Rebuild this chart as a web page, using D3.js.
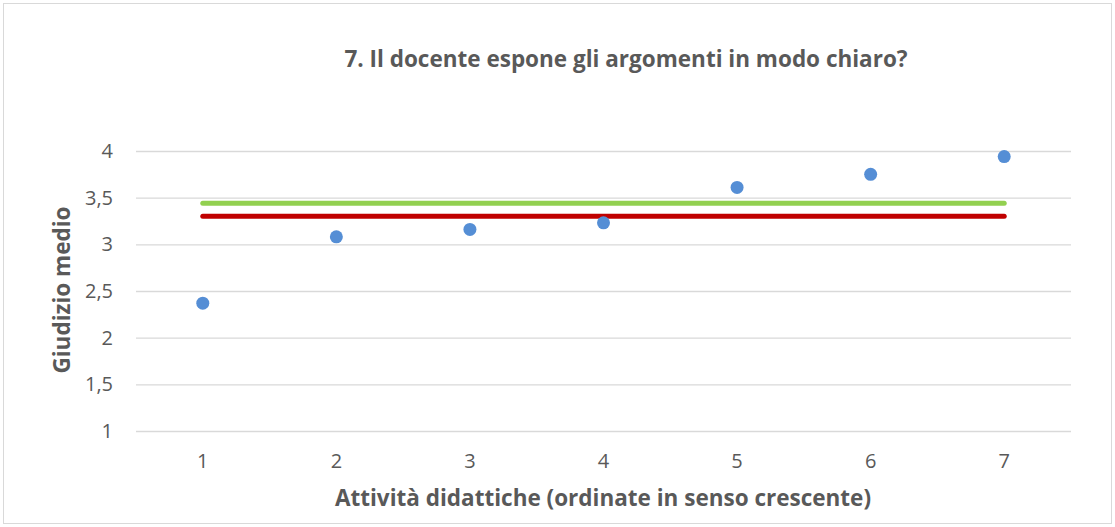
<!DOCTYPE html>
<html>
<head>
<meta charset="utf-8">
<script src="https://cdn.jsdelivr.net/npm/d3@7"></script>
<style>
  html, body { margin: 0; padding: 0; background: #fff; }
  svg { display: block; font-family: "Open Sans", Lato, sans-serif; }
</style>
</head>
<body>
<svg id="chart" width="1115" height="527"></svg>
<script>
const categories = [1, 2, 3, 4, 5, 6, 7];
const scores = [2.37, 3.08, 3.16, 3.23, 3.61, 3.75, 3.94];
const greenRef = [3.44, 3.44, 3.44, 3.44, 3.44, 3.44, 3.44];
const redRef = [3.30, 3.30, 3.30, 3.30, 3.30, 3.30, 3.30];
const yTicks = [1, 1.5, 2, 2.5, 3, 3.5, 4];
const title = "7. Il docente espone gli argomenti in modo chiaro?";
const xTitle = "Attività didattiche (ordinate in senso crescente)";
const yTitle = "Giudizio medio";

const svg = d3.select("#chart");
const W = 1115, H = 527;
const m = { left: 136, right: 1071, top: 151, bottom: 431 };

svg.append("rect").attr("x", 3.5).attr("y", 3.5).attr("width", W - 7).attr("height", H - 7)
  .attr("fill", "#fff").attr("stroke", "#d9d9d9").attr("stroke-width", 1);

const x = d3.scaleBand().domain(categories).range([m.left, m.right]);
const y = d3.scaleLinear().domain([1, 4]).range([m.bottom, m.top]);
const cx = d => x(d) + x.bandwidth() / 2;

// gridlines
const yAxis = d3.axisLeft(y).tickValues(yTicks).tickSize(-(m.right - m.left)).tickPadding(23)
  .tickFormat(d => d3.format("")(d).replace(".", ","));
const gy = svg.append("g").attr("transform", `translate(${m.left},0)`).call(yAxis)
  .attr("font-family", null).attr("font-size", null);
gy.select(".domain").remove();
gy.selectAll(".tick line").attr("stroke", "#d9d9d9").attr("stroke-width", 1.3);
gy.selectAll(".tick text").attr("fill", "#595959").style("font-size", "20px");

const xAxis = d3.axisBottom(x).tickSize(0).tickPadding(22.8);
const gx = svg.append("g").attr("transform", `translate(0,${m.bottom})`).call(xAxis)
  .attr("font-family", null).attr("font-size", null);
gx.select(".domain").remove();
gx.selectAll(".tick text").attr("fill", "#595959").style("font-size", "20px");

// reference lines
const line = d3.line().x((d, i) => cx(categories[i])).y(d => y(d));
svg.append("path").datum(greenRef).attr("d", line).attr("fill", "none")
  .attr("stroke", "#92d050").attr("stroke-width", 5).attr("stroke-linecap", "round");
svg.append("path").datum(redRef).attr("d", line).attr("fill", "none")
  .attr("stroke", "#c00000").attr("stroke-width", 5).attr("stroke-linecap", "round");

// points
svg.append("g").selectAll("circle").data(scores).join("circle")
  .attr("cx", (d, i) => cx(categories[i])).attr("cy", d => y(d)).attr("r", 6.5)
  .attr("fill", "#558ed5");

// titles
svg.append("text").attr("x", 626).attr("y", 67).attr("text-anchor", "middle")
  .attr("fill", "#595959").style("font-size", "22.5px").style("font-weight", "bold").text(title);
svg.append("text").attr("x", 603).attr("y", 506).attr("text-anchor", "middle")
  .attr("fill", "#595959").style("font-size", "22.5px").style("font-weight", "bold").text(xTitle);
svg.append("text").attr("transform", `translate(70,290) rotate(-90)`).attr("text-anchor", "middle")
  .attr("fill", "#595959").style("font-size", "22.5px").style("font-weight", "bold").text(yTitle);
</script>
</body>
</html>
